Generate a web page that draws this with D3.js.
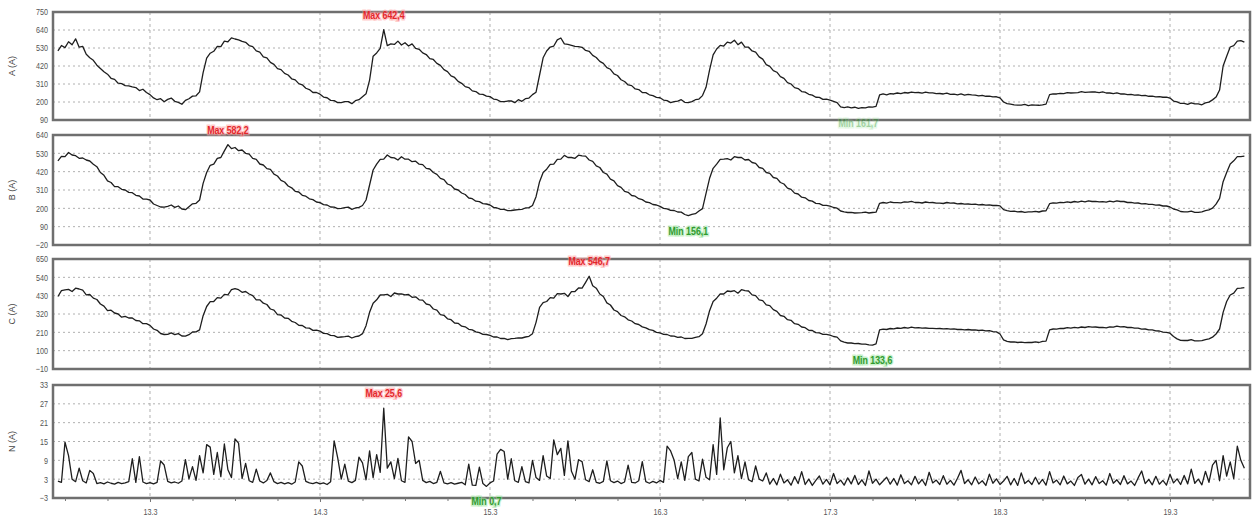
<!DOCTYPE html>
<html><head><meta charset="utf-8">
<script src="https://cdn.jsdelivr.net/npm/d3@7"></script>
<style>
body{margin:0;background:#fff;}
svg text{font-family:"Liberation Sans",Arial,sans-serif;}
</style></head><body>
<svg id="chart" width="1256" height="521"></svg>
<script>
// Sample times are hours after 12.3 00:00
const startHour = 11;
const phaseStep = 0.5;
const neutralStep = 0.5;

const dayTicks = ["13.3","14.3","15.3","16.3","17.3","18.3","19.3"];
const dayTickHours = [24,48,72,96,120,144,168];

const phaseA = [
  512,545,532,568,550,586,535,540,492,470,455,425,405,385,370,345,338,315,312,300,298,292,288,270,278,258,
  245,225,214,220,202,216,224,204,198,186,210,220,236,238,262,380,468,498,510,540,538,572,568,592,585,580,570,565,545,538,512,505,476,470,442,430,404,398,375,365,342,335,312,305,284,276,258,258,
  248,230,226,210,208,196,196,202,202,190,208,214,232,250,334,480,500,528,642.4,545,555,552,572,548,562,542,555,528,522,500,490,465,460,436,424,398,386,360,350,326,314,294,288,268,264,248,247,236,
  233,218,214,202,202,206,207,196,214,204,220,224,245,260,365,470,512,536,542,580,591,555,552,546,540,538,534,515,510,485,472,448,436,410,400,372,362,336,325,304,300,280,276,258,257,244,239,228,
  226,212,208,196,202,206,214,198,196,202,214,218,239,290,396,488,524,546,542,566,560,578,550,566,536,535,512,505,476,462,428,418,392,382,355,344,318,310,288,282,264,260,247,242,229,228,216,217,
  212,204,196,170,166,170,164,168,161.7,166,164,170,169,173,243,249,244,251,249,255,251,258,255,261,257,258,254,260,256,256,251,252,249,254,247,248,244,249,242,246,243,242,237,241,235,236,231,232,
  225,200,190,187,182,181,181,185,178,182,181,180,183,187,245,250,249,253,251,257,255,256,257,263,259,260,261,261,257,262,255,255,251,256,249,250,245,246,242,243,239,240,235,236,231,233,229,230,
  224,206,201,191,191,185,195,189,189,183,195,199,213,230,273,420,480,536,545,572,575,566
];
const phaseB = [
  485,512,510,535,520,516,500,502,490,484,465,450,415,398,365,355,330,330,314,310,296,294,278,274,256,255,
  250,226,217,208,207,212,220,206,214,196,192,210,227,230,250,350,415,458,465,500,505,545,582.2,558,565,546,550,530,525,500,494,466,460,438,434,405,394,368,358,334,323,302,298,278,273,257,252,238,
  234,222,220,208,207,198,200,204,207,194,202,206,217,250,340,430,465,494,495,520,505,503,490,510,495,495,480,483,465,462,440,436,415,404,380,372,346,338,316,310,292,283,262,258,243,240,228,226,
  220,206,202,194,194,186,187,190,192,194,202,204,217,270,360,415,435,464,465,494,495,518,505,505,500,519,515,513,490,482,455,445,415,405,375,365,336,326,302,296,277,273,258,252,238,234,223,220,
  212,200,197,188,187,178,177,163,156.1,164,168,184,198,290,380,440,465,494,495,498,490,510,505,505,490,493,475,470,445,440,415,410,385,380,355,346,321,314,291,286,267,263,247,243,230,228,218,218,
  213,205,201,184,179,175,176,172,173,174,177,172,175,177,230,235,231,238,234,234,233,239,237,242,235,236,232,238,234,235,231,231,229,235,231,232,227,229,225,226,224,225,221,223,219,221,217,218,
  215,192,186,182,183,179,181,176,179,179,182,178,184,185,228,233,231,236,234,239,235,241,237,243,239,245,241,242,239,240,237,243,239,245,241,241,235,236,231,232,227,228,224,224,219,220,214,214,
  208,196,191,181,179,179,183,176,176,179,186,191,201,225,260,360,415,466,485,510,510,513
];
const phaseC = [
  425,460,465,468,455,475,470,463,435,437,415,407,380,367,340,343,326,320,301,306,296,296,281,279,262,262,
  252,230,222,203,197,198,207,196,202,188,187,196,212,213,225,310,365,394,395,418,415,438,435,466,472,466,450,455,440,430,405,405,385,377,350,343,316,314,296,294,276,269,252,251,237,235,222,223,
  217,204,202,192,190,180,182,184,187,176,184,188,202,250,330,385,405,434,435,438,425,446,440,441,435,437,420,423,405,403,380,375,350,343,316,312,291,286,266,264,247,243,228,225,213,208,198,197,
  192,182,182,173,174,166,172,174,177,176,182,186,202,270,360,388,395,418,415,442,440,444,425,454,455,476,475,510,546.7,490,475,440,425,387,374,344,334,311,303,285,278,262,257,243,237,226,222,210,
  207,198,197,188,187,180,182,173,174,174,180,184,202,260,340,395,415,441,440,458,455,460,445,466,460,458,435,430,405,400,375,370,346,336,311,306,286,282,262,258,242,238,222,221,208,207,198,198,
  193,185,181,159,151,146,146,142,143,139,139,135,133.6,141,225,229,227,233,231,236,234,239,235,241,237,238,235,236,234,234,232,233,231,232,229,231,227,228,225,227,224,225,221,223,219,220,214,213,
  200,165,156,152,153,149,151,148,149,149,153,149,156,157,225,230,229,234,233,238,235,240,237,242,239,244,241,242,239,240,237,243,241,247,243,244,239,240,235,235,229,230,225,225,219,218,211,210,
  205,185,171,162,161,161,166,159,159,160,166,171,181,200,230,330,395,434,445,474,475,478
];
const neutral = [
  2.4,2.0,14.8,10.5,3.0,2.2,6.5,2.5,1.8,5.8,
  4.8,1.6,1.9,1.5,2.1,1.7,1.4,2.0,1.6,1.8,
  2.2,9.5,2.0,10.2,2.1,1.6,1.9,1.5,2.0,8.8,
  7.5,2.3,1.8,2.1,1.7,2.4,9.2,3.1,7.0,2.6,
  10.5,5.0,14.0,13.2,4.5,11.5,3.8,14.2,6.0,3.5,
  15.8,14.5,3.2,8.0,2.5,2.0,6.2,2.4,1.8,2.6,
  5.0,2.2,1.6,2.0,1.5,1.9,1.4,2.1,8.5,7.2,
  2.3,1.8,1.6,2.0,1.5,1.8,1.3,2.2,15.2,9.8,
  3.0,7.8,2.4,1.9,2.6,10.0,8.2,2.8,12.0,3.5,
  10.8,5.2,25.6,6.5,8.5,3.2,9.6,2.5,2.0,16.5,
  15.0,8.0,9.0,2.6,1.9,2.3,1.6,2.0,5.5,1.8,
  1.5,1.9,1.4,1.7,2.0,1.2,7.8,1.1,1.0,6.8,
  1.6,0.7,1.8,2.4,11.0,12.5,11.8,3.0,9.5,2.5,
  2.0,7.0,2.2,1.8,9.0,3.5,2.6,10.5,4.0,3.2,
  15.5,10.8,12.8,4.2,15.2,5.5,3.0,9.2,8.6,2.8,
  2.2,6.0,2.0,1.7,2.3,8.8,2.5,1.9,2.4,1.6,
  2.1,7.5,2.0,1.8,2.5,8.6,2.2,1.7,2.3,1.8,
  2.6,2.0,13.5,12.0,9.0,3.2,8.5,2.6,10.2,11.5,
  3.0,2.4,9.4,3.6,2.8,14.0,4.5,22.5,6.0,13.0,
  15.0,5.0,10.5,3.2,8.5,2.8,2.2,7.2,3.0,2.4,
  5.0,1.4,3.2,1.2,4.6,1.8,2.8,1.1,3.8,1.6,
  5.4,1.3,3.0,1.0,2.6,4.0,1.4,2.9,1.2,4.8,
  1.6,2.7,1.1,3.4,1.5,4.2,1.3,2.8,1.0,5.6,
  1.7,3.0,1.2,2.4,3.6,1.4,3.2,1.1,4.4,1.6,
  2.5,1.2,3.9,1.5,2.9,1.0,5.2,1.8,2.7,1.3,
  4.1,1.4,2.6,1.1,3.3,5.8,1.6,2.8,1.2,3.7,
  1.5,2.5,1.0,4.6,1.7,3.1,1.3,2.4,3.9,1.2,
  3.2,1.0,5.0,1.6,2.6,1.3,3.6,1.4,2.9,1.1,
  5.4,1.8,2.7,1.2,4.0,1.5,2.4,1.0,3.5,4.5,
  1.4,3.0,1.2,3.8,1.6,2.5,1.1,4.8,1.7,2.8,
  1.3,4.1,1.5,2.4,1.0,3.4,5.6,1.6,2.9,1.2,
  3.9,1.4,2.6,1.1,4.6,1.8,3.1,1.3,4.2,1.5,
  6.2,1.7,3.0,1.2,5.5,2.0,7.5,9.0,2.5,10.5,
  4.0,8.5,3.2,13.5,9.0,6.5
];

const ticksA = [90,200,310,420,530,640,750];
const ticksB = [-20,90,200,310,420,530,640];
const ticksC = [-10,100,210,320,430,540,650];
const ticksN = [-3,3,9,15,21,27,33];

const panels = [
  {title:"A (A)", values:phaseA, step:phaseStep, ticks:ticksA, top:12,  bottom:120, minFade:true},
  {title:"B (A)", values:phaseB, step:phaseStep, ticks:ticksB, top:135, bottom:245},
  {title:"C (A)", values:phaseC, step:phaseStep, ticks:ticksC, top:259, bottom:369},
  {title:"N (A)", values:neutral, step:neutralStep, ticks:ticksN, top:385, bottom:498}
];

const left = 53, right = 1250;
const narrow = 0.8; // horizontal squeeze for the condensed look of all labels
const svg = d3.select("#chart");
const x = d3.scaleLinear().domain([10.306, 179.294]).range([left, right]);
const fmt = v => d3.format(".1f")(v).replace(".", ",");

function squeeze(sel) {
  sel.each(function () {
    const t = d3.select(this);
    const tx = +t.attr("x") || 0;
    t.attr("transform", `translate(${tx * (1 - narrow)},0) scale(${narrow},1)`);
  });
}

function note(g, px, py, txt, fill, halo, opacity) {
  g.append("g").attr("transform", `translate(${px},${py}) scale(${narrow},1)`)
    .append("text")
    .attr("text-anchor", "middle").attr("dominant-baseline", "middle")
    .attr("font-size", 11).attr("font-weight", "bold")
    .attr("fill", fill).attr("stroke", halo).attr("stroke-width", 3)
    .attr("paint-order", "stroke").attr("opacity", opacity)
    .text(txt);
}

panels.forEach((p, pi) => {
  const y = d3.scaleLinear()
    .domain([p.ticks[0], p.ticks[p.ticks.length - 1]])
    .range([p.bottom, p.top]);
  const g = svg.append("g");

  // grid
  g.selectAll("line.h").data(p.ticks.slice(1, -1)).join("line")
    .attr("x1", left).attr("x2", right)
    .attr("y1", d => y(d)).attr("y2", d => y(d))
    .attr("stroke", "#b0b0b0").attr("stroke-width", 1).attr("stroke-dasharray", "2,3");
  g.selectAll("line.v").data(dayTickHours).join("line")
    .attr("x1", d => x(d)).attr("x2", d => x(d))
    .attr("y1", p.top).attr("y2", p.bottom)
    .attr("stroke", "#b0b0b0").attr("stroke-width", 1).attr("stroke-dasharray", "3,3");

  // y axis labels
  const ay = g.append("g").attr("transform", `translate(${left},0)`)
    .call(d3.axisLeft(y).tickValues(p.ticks).tickSize(0).tickPadding(5).tickFormat(d3.format("d")));
  ay.select(".domain").remove();
  ay.selectAll("text").attr("fill", "#555").attr("font-size", 9).call(squeeze);

  g.append("text")
    .attr("transform", `translate(13,${(p.top + p.bottom) / 2}) rotate(-90)`)
    .attr("text-anchor", "middle").attr("dominant-baseline", "middle")
    .attr("font-size", 9).attr("fill", "#444").text(p.title);

  // series
  const pts = p.values.map((v, i) => [startHour + i * p.step, v]);
  g.append("path").datum(pts)
    .attr("d", d3.line().x(d => x(d[0])).y(d => y(d[1])))
    .attr("fill", "none").attr("stroke", "#1e1e1e").attr("stroke-width", 1.3)
    .attr("stroke-linejoin", "round");

  // frame
  g.append("rect").attr("x", left).attr("y", p.top)
    .attr("width", right - left).attr("height", p.bottom - p.top)
    .attr("fill", "none").attr("stroke", "#6f6f6f").attr("stroke-width", 2.5);

  // max / min annotations
  const maxP = pts[d3.maxIndex(p.values)], minP = pts[d3.minIndex(p.values)];
  note(g, x(maxP[0]), y(maxP[1]) - 14, "Max " + fmt(maxP[1]),
       "#e3262b", "rgba(255,160,160,0.55)", 1);
  note(g, x(minP[0]), y(minP[1]) + 16, "Min " + fmt(minP[1]),
       "#2f9a2f", "rgba(160,230,160,0.55)", p.minFade ? 0.45 : 1);

  if (pi === panels.length - 1) {
    const minorHours = d3.range(12, 180, 6);
    const am = svg.append("g").attr("transform", `translate(0,${p.bottom})`)
      .call(d3.axisBottom(x).tickValues(minorHours).tickSize(3).tickFormat(""));
    am.select(".domain").remove();
    am.selectAll("line").attr("stroke", "#777");
    const ax = svg.append("g").attr("transform", `translate(0,${p.bottom})`)
      .call(d3.axisBottom(x).tickValues(dayTickHours).tickSize(4).tickPadding(7)
        .tickFormat((d, i) => dayTicks[i]));
    ax.select(".domain").remove();
    ax.selectAll("line").attr("stroke", "#777");
    ax.selectAll("text").attr("fill", "#555").attr("font-size", 9).call(squeeze);
  }
});
</script>
</body></html>
